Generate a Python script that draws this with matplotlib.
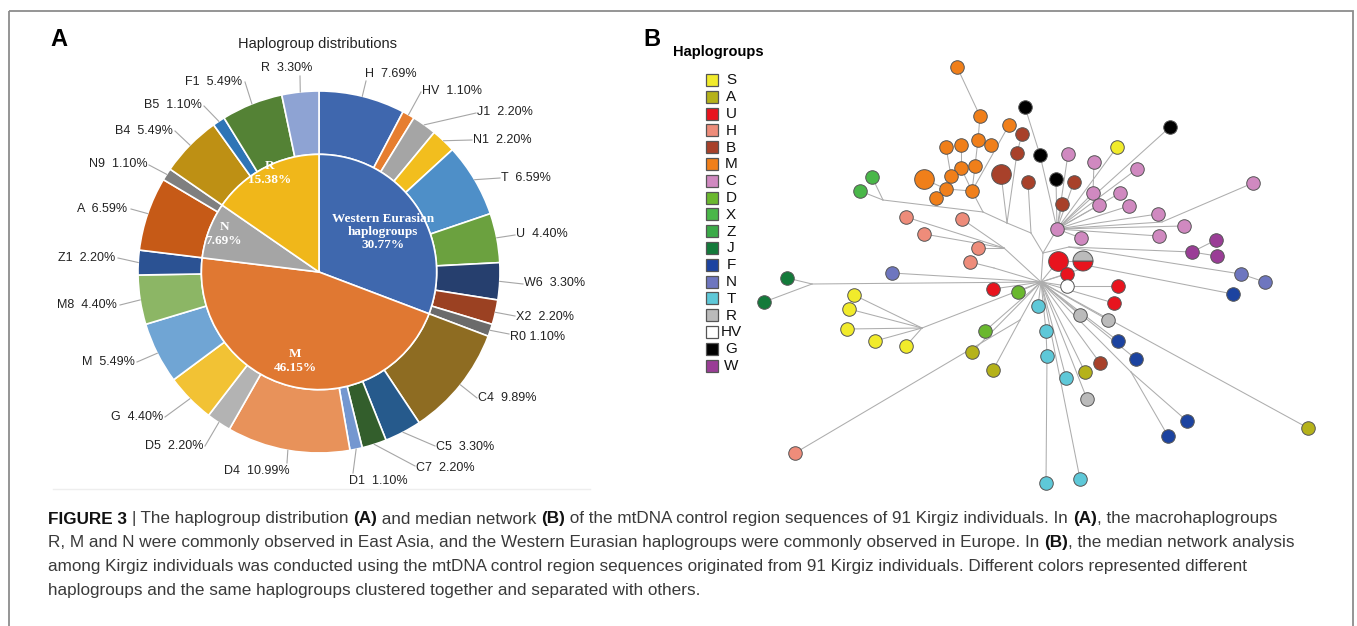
import matplotlib
matplotlib.use('Agg')
import matplotlib.pyplot as plt
import numpy as np
from matplotlib.patches import Rectangle, Wedge

plt.rcParams['font.family'] = ['Liberation Sans', 'DejaVu Sans']

# ---------------- data: panel A ----------------
outer_labels = ['H', 'HV', 'J1', 'N1', 'T', 'U', 'W6', 'X2', 'R0',
                'C4', 'C5', 'C7', 'D1', 'D4', 'D5', 'G', 'M', 'M8', 'Z1',
                'A', 'N9', 'B4', 'B5', 'F1', 'R']
outer_pct = [7.69, 1.10, 2.20, 2.20, 6.59, 4.40, 3.30, 2.20, 1.10,
             9.89, 3.30, 2.20, 1.10, 10.99, 2.20, 4.40, 5.49, 4.40, 2.20,
             6.59, 1.10, 5.49, 1.10, 5.49, 3.30]
outer_colors = ['#3F67AE', '#E67E30', '#A5A5A5', '#F2BE1E', '#4E8FC8', '#6BA13F',
                '#263F6E', '#9B4122', '#6B6B6B', '#8E6C22', '#265A8C', '#335E2C',
                '#7497D0', '#E8925A', '#B3B3B3', '#F2C234', '#70A5D4', '#8CB665',
                '#2B5293', '#C65A17', '#7F7F7F', '#BE9014', '#2E75B6', '#548235',
                '#8EA3D3']
inner_labels = ['Western Eurasian\nhaplogroups', 'M', 'N', 'R']
inner_pct = [30.77, 46.15, 7.69, 15.38]
inner_colors = ['#3F68AE', '#E07832', '#A5A5A5', '#F0B71A']

# ---------------- data: panel B ----------------
hg_names = ['S', 'A', 'U', 'H', 'B', 'M', 'C', 'D', 'X', 'Z', 'J', 'F', 'N', 'T',
            'R', 'HV', 'G', 'W']
hg_colors = ['#F1EB2B', '#B5B21A', '#E8141E', '#EE8C7A', '#A8412A', '#F07F1A',
             '#D089C0', '#6AB82E', '#4AB749', '#3BAA48', '#137A3A', '#1C43A0',
             '#6E76BF', '#5EC8D8', '#BBBBBB', '#FFFFFF', '#000000', '#9A3D96']

# network nodes (layout units); hg None = median vector / junction
node_id = ['O', 'jP1', 'jP2', 'jP3', 'jP4', 'jG', 'jHs', 'jH2', 'jJ', 'jY', 'jSW',
           'jF', 'jR', 'jC2', 'jF1',
           'm1', 'm2', 'm3', 'm4', 'm5', 'm6', 'm7', 'm8', 'm9', 'm10', 'm11', 'm12',
           'm13', 'm14',
           'g1', 'g2', 'g3', 'g4',
           'b1', 'b2', 'b3', 'b4', 'b5', 'b6', 'b7',
           'c0', 'c1', 'c2', 'c3', 'c4', 'c5', 'c6', 'c7', 'c8', 'c9', 'c10', 'c11', 'c12',
           's1', 's2', 's3', 's4', 's5', 's6',
           'x1', 'x2', 'd1', 'd2', 'j1', 'j2',
           'h1', 'h2', 'h3', 'h4', 'h5', 'h6',
           'n1', 'n2', 'n3',
           'u1', 'u2', 'u3', 'u4', 'u5', 'u6', 'hv1',
           'w1', 'w2', 'w3',
           'f1', 'f2', 'f3', 'f4', 'f5',
           't1', 't2', 't3', 't4', 't5', 't6',
           'r1', 'r2', 'r3',
           'a1', 'a2', 'a3', 'a4']
node_x = [1041, 1043, 1031, 1007, 983, 883, 1004, 994, 812, 922, 1020,
          1131, 1069, 1162, 1090,
          957, 980, 1009, 978, 991, 946, 961, 975, 961, 924, 951, 946, 972, 936,
          1025, 1170, 1040, 1056,
          1022, 1017, 1001, 1028, 1074, 1062, 1100,
          1057, 1068, 1094, 1137, 1093, 1120, 1099, 1129, 1158, 1184, 1159, 1081, 1253,
          1117, 854, 849, 847, 875, 906,
          872, 860, 1018, 985, 787, 764,
          906, 962, 924, 978, 970, 795,
          892, 1241, 1265,
          1058, 1083, 1067, 993, 1118, 1114, 1067,
          1216, 1192, 1217,
          1233, 1118, 1136, 1187, 1168,
          1038, 1046, 1047, 1066, 1046, 1080,
          1080, 1108, 1087,
          972, 993, 1085, 1308]
node_y = [282, 253, 233, 223, 212, 200, 248, 268, 284, 328, 320,
          372, 247, 222, 266,
          67, 116, 125, 140, 145, 147, 145, 166, 168, 179, 176, 189, 191, 198,
          107, 127, 155, 179,
          134, 153, 174, 182, 182, 204, 363,
          229, 154, 162, 169, 193, 193, 205, 206, 214, 226, 236, 238, 183,
          147, 295, 309, 329, 341, 346,
          177, 191, 292, 331, 278, 302,
          217, 219, 234, 248, 262, 453,
          273, 274, 282,
          261, 261, 274, 289, 286, 303, 286,
          240, 252, 256,
          294, 341, 359, 421, 436,
          306, 331, 356, 378, 483, 479,
          315, 320, 399,
          352, 370, 372, 428]
node_hg = [None] * 15 + \
          ['M'] * 14 + ['G'] * 4 + ['B'] * 7 + ['C'] * 13 + ['S'] * 6 + \
          ['X', 'X', 'D', 'D', 'J', 'J'] + ['H'] * 6 + ['N'] * 3 + \
          ['U', 'U/R', 'U', 'U', 'U', 'U', 'HV'] + ['W'] * 3 + ['F'] * 5 + \
          ['T'] * 6 + ['R'] * 3 + ['A'] * 4
big_nodes = ['m10', 'b3', 'u1', 'u2']

edges = [('O', 'jP1'), ('jP1', 'c0'), ('jP1', 'jP2'), ('jP2', 'jP3'), ('jP3', 'jP4'),
         ('m1', 'm2'), ('m2', 'm4'), ('m5', 'm4'), ('m4', 'm8'), ('m8', 'm13'),
         ('m3', 'm13'), ('m9', 'm13'), ('m7', 'm9'), ('m6', 'm11'), ('m11', 'm12'),
         ('m10', 'm12'), ('m14', 'm12'), ('m12', 'm13'), ('m13', 'jP4'),
         ('g1', 'g3'), ('g3', 'c0'), ('g4', 'c0'), ('g2', 'c0'),
         ('b1', 'b2'), ('b2', 'jP3'), ('b3', 'jP3'), ('b4', 'jP2'), ('b5', 'c0'),
         ('b6', 'c0'), ('b7', 'O'),
         ('c1', 'c0'), ('c2', 'c4'), ('c4', 'c0'), ('c3', 'c0'), ('c5', 'c0'),
         ('c6', 'c0'), ('c7', 'c0'), ('c8', 'c0'), ('c9', 'c0'), ('c10', 'c0'),
         ('c11', 'c0'), ('c12', 'jC2'), ('jC2', 'c0'), ('s1', 'c0'),
         ('s2', 'jY'), ('s3', 'jY'), ('s4', 'jY'), ('s5', 'jY'), ('s6', 'jY'), ('jY', 'O'),
         ('x1', 'jG'), ('x2', 'jG'), ('jG', 'jP4'), ('d1', 'O'), ('d2', 'O'),
         ('j1', 'jJ'), ('j2', 'jJ'), ('jJ', 'O'),
         ('h1', 'jHs'), ('h2', 'jHs'), ('h3', 'jHs'), ('h4', 'jHs'), ('jHs', 'O'),
         ('h5', 'jH2'), ('jH2', 'O'), ('h6', 'jSW'), ('jSW', 'O'),
         ('n1', 'O'), ('n3', 'n2'), ('n2', 'jR'), ('jR', 'jP1'),
         ('u1', 'u2'), ('u1', 'O'), ('u3', 'O'), ('u4', 'O'), ('u5', 'hv1'),
         ('hv1', 'O'), ('u6', 'O'),
         ('w1', 'w2'), ('w3', 'w2'), ('w2', 'jR'),
         ('f1', 'jF1'), ('jF1', 'O'), ('f2', 'O'), ('f3', 'O'), ('f4', 'jF'),
         ('f5', 'jF'), ('jF', 'O'),
         ('t1', 'O'), ('O', 't2'), ('t2', 't3'), ('t3', 't5'), ('t6', 'O'), ('t4', 'O'),
         ('r1', 'O'), ('r2', 'O'), ('r3', 'O'),
         ('a1', 'O'), ('a2', 'jSW'), ('a3', 'O'), ('a4', 'O')]

caption_lines = [
    [('FIGURE 3 ', True), ('|', False), (' The haplogroup distribution ', False), ('(A)', True),
     (' and median network ', False), ('(B)', True),
     (' of the mtDNA control region sequences of 91 Kirgiz individuals. In ', False),
     ('(A)', True), (', the macrohaplogroups', False)],
    [('R, M and N were commonly observed in East Asia, and the Western Eurasian haplogroups '
      'were commonly observed in Europe. In ', False), ('(B)', True),
     (', the median network analysis', False)],
    [('among Kirgiz individuals was conducted using the mtDNA control region sequences '
      'originated from 91 Kirgiz individuals. Different colors represented different', False)],
    [('haplogroups and the same haplogroups clustered together and separated with others.', False)],
]

# ---------------- figure ----------------
W, H = 1357, 626
fig = plt.figure(figsize=(W / 100, H / 100), dpi=100)
bg = fig.add_axes([0, 0, 1, 1])
bg.set_xlim(0, W)
bg.set_ylim(H, 0)
bg.axis('off')

bg.add_patch(Rectangle((9, 11), 1344, 640, fill=False, ec='#8c8c8c', lw=1.3))
bg.plot([53, 590], [489, 489], color='#eeeeee', lw=1)
bg.text(50, 40, 'A', fontsize=17, fontweight='bold', va='center', ha='left')
bg.text(643, 40, 'B', fontsize=17, fontweight='bold', va='center', ha='left')
bg.text(318, 44, 'Haplogroup distributions', fontsize=10.5, ha='center', va='center',
        color='#222222')

# ---- panel A: nested pie ----
cx, cy, R = 319, 272, 181
pa = fig.add_axes([0, 0, 1, 1])
pa.patch.set_alpha(0)
wedges_out, _ = pa.pie(outer_pct, radius=1.0, colors=outer_colors, startangle=90,
                       counterclock=False,
                       wedgeprops=dict(width=0.35, edgecolor='white', linewidth=1.2))
pa.pie(inner_pct, radius=0.65, colors=inner_colors, startangle=90, counterclock=False,
       wedgeprops=dict(edgecolor='white', linewidth=1.2))
pa.set_xlim((0 - cx) / R, (W - cx) / R)
pa.set_ylim((cy - H) / R, cy / R)
pa.set_aspect('auto')
pa.axis('off')


def px(x, y):
    return (x - cx) / R, (cy - y) / R


# label layout: left x, centre y, leader end (pixels)
lab_pos = {'R': (261, 68, 300, 76), 'H': (365, 74, 366, 81), 'HV': (422, 91, 421, 92),
           'J1': (477, 112, 476, 113), 'N1': (473, 140, 472, 140), 'T': (501, 178, 500, 178),
           'U': (516, 234, 515, 235), 'W6': (524, 283, 523, 284), 'X2': (516, 317, 515, 316),
           'R0': (510, 337, 509, 334), 'C4': (478, 398, 477, 398), 'C5': (436, 447, 435, 446),
           'C7': (416, 468, 415, 466), 'D1': (349, 481, 353, 473), 'D4': (224, 471, 287, 463),
           'D5': (145, 446, 205, 446), 'G': (111, 417, 165, 417), 'M': (82, 362, 137, 362),
           'M8': (57, 305, 120, 305), 'Z1': (58, 258, 118, 258), 'A': (77, 209, 131, 209),
           'N9': (89, 164, 149, 165), 'B4': (115, 131, 175, 131), 'B5': (144, 105, 204, 106),
           'F1': (185, 82, 245, 82)}
for w, name, pct in zip(wedges_out, outer_labels, outer_pct):
    lx, ly, ex, ey = lab_pos[name]
    sep = ' ' if name == 'R0' else '  '
    pa.text(*px(lx, ly), f'{name}{sep}{pct:.2f}%', fontsize=9, ha='left', va='center',
            color='#222222')
    ang = np.deg2rad((w.theta1 + w.theta2) / 2)
    ex_d, ey_d = px(ex, ey)
    pa.plot([np.cos(ang), ex_d], [np.sin(ang), ey_d], color='#a6a6a6', lw=0.8)

inner_pos = [(383, 232), (295, 361), (224, 234), (270, 173)]
for (ix, iy), name, pct in zip(inner_pos, inner_labels, inner_pct):
    pa.text(*px(ix, iy), f'{name}\n{pct:.2f}%', fontsize=9.5, fontweight='bold',
            family='Liberation Serif', color='white', ha='center', va='center',
            linespacing=1.15)

# ---- panel B: network ----
pos = {n: (x, y) for n, x, y in zip(node_id, node_x, node_y)}
col = dict(zip(hg_names, hg_colors))
for a, b in edges:
    bg.plot([pos[a][0], pos[b][0]], [pos[a][1], pos[b][1]], color='#adadad', lw=0.75,
            zorder=1)
for n, x, y, hg in zip(node_id, node_x, node_y, node_hg):
    if hg is None:
        continue
    if hg == 'U/R':
        bg.add_patch(Wedge((x, y), 10, 0, 180, fc=col['U'], ec='#555555', lw=0.7, zorder=3))
        bg.add_patch(Wedge((x, y), 10, 180, 360, fc=col['R'], ec='#555555', lw=0.7, zorder=3))
        continue
    s = 200 if n in big_nodes else 95
    bg.scatter([x], [y], s=s, c=col[hg], edgecolors='#555555', linewidths=0.7, zorder=3)

bg.text(673, 52, 'Haplogroups', fontsize=10.5, fontweight='bold', va='center', ha='left')
for i, (name, c) in enumerate(zip(hg_names, hg_colors)):
    y = 80 + i * 16.8
    bg.add_patch(Rectangle((706, y - 6), 12, 12, fc=c, ec='#555555', lw=0.9))
    bg.text(731, y + 0.5, name, fontsize=11, ha='center', va='center', color='#111111')

# ---- caption ----
renderer = fig.canvas.get_renderer()


def text_w(s, size, bold):
    kw = dict(fontsize=size, fontweight='bold' if bold else 'normal')
    t = bg.text(0, 0, '|' + s + '|', **kw)
    w1 = t.get_window_extent(renderer).width
    t.remove()
    t = bg.text(0, 0, '||', **kw)
    w2 = t.get_window_extent(renderer).width
    t.remove()
    return w1 - w2


ref_w = sum(text_w(s, 12, b) for s, b in caption_lines[1])
size = 12 * 1248 / ref_w
for k, line in enumerate(caption_lines):
    x = 48
    y = 519 + k * 23.7
    for s, b in line:
        bg.text(x, y, s, fontsize=size, fontweight='bold' if b else 'normal',
                color='#111111' if b else '#3a3a3a', ha='left', va='center')
        x += text_w(s, size, b)

fig.savefig('out.png', dpi=100)
